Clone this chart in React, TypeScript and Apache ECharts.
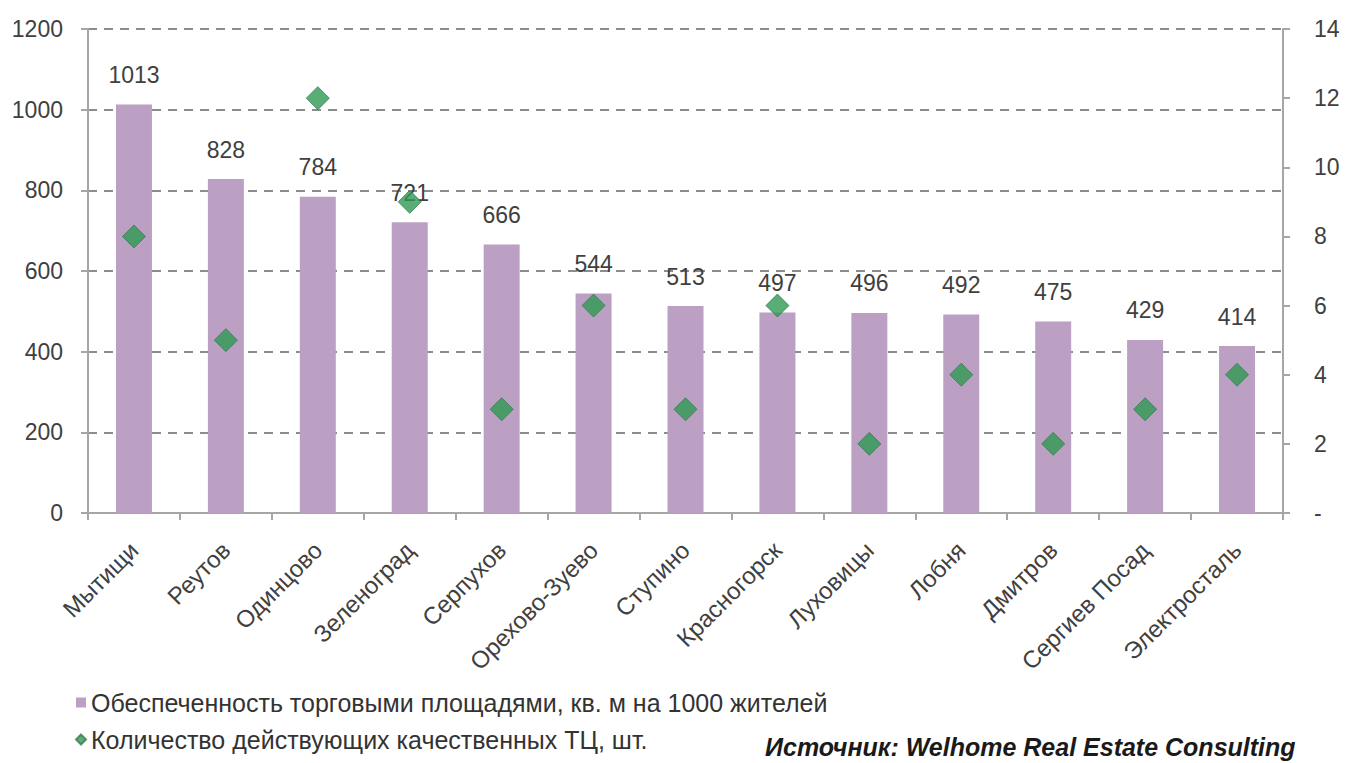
import React, { useEffect, useRef } from "react";
import * as echarts from "echarts";

const categories = [
  "Мытищи",
  "Реутов",
  "Одинцово",
  "Зеленоград",
  "Серпухов",
  "Орехово-Зуево",
  "Ступино",
  "Красногорск",
  "Луховицы",
  "Лобня",
  "Дмитров",
  "Сергиев Посад",
  "Электросталь",
];
const areaPer1000 = [1013, 828, 784, 721, 666, 544, 513, 497, 496, 492, 475, 429, 414];
const mallCount = [8, 5, 12, 9, 3, 6, 3, 6, 2, 4, 2, 3, 4];
const barName = "Обеспеченность торговыми площадями, кв. м на 1000 жителей";
const scatterName = "Количество действующих качественных ТЦ, шт.";
const sourceText = "Источник: Welhome Real Estate Consulting";

const FONT = "Arial, 'Liberation Sans', sans-serif";
const TXT = "#404040";

export default function App() {
  const ref = useRef<HTMLDivElement>(null);
  useEffect(() => {
    document.body.style.margin = "0";
    const chart = echarts.init(ref.current!, undefined, { renderer: "svg" });
    chart.setOption({
      animation: false,
      backgroundColor: "#ffffff",
      textStyle: { fontFamily: FONT },
      grid: { left: 88, right: 62, top: 29, bottom: 250, containLabel: false },
      legend: {
        orient: "vertical",
        left: 70,
        top: 685,
        itemGap: 12,
        itemWidth: 10,
        itemHeight: 10,
        textStyle: {
          fontFamily: FONT,
          fontSize: 25,
          color: "#333333",
        },
        data: [
          { name: barName, icon: "rect" },
          { name: scatterName, icon: "diamond" },
        ],
      },
      graphic: [
        {
          type: "text",
          left: 765,
          top: 734,
          style: {
            text: sourceText,
            fontFamily: FONT,
            fontSize: 25,
            fontWeight: "bold",
            fontStyle: "italic",
            fill: "#1a1a1a",
          },
        },
      ],
      xAxis: {
        type: "category",
        data: categories,
        boundaryGap: true,
        axisLine: { lineStyle: { color: "#A6A6A6", width: 2 } },
        axisTick: { show: true, length: 7, lineStyle: { color: "#A6A6A6", width: 2 } },
        axisLabel: {
          rotate: 45,
          interval: 0,
          fontSize: 24,
          color: TXT,
          margin: 33,
        },
      },
      yAxis: [
        {
          type: "value",
          min: 0,
          max: 1200,
          interval: 200,
          axisLine: { show: true, lineStyle: { color: "#A6A6A6", width: 2 } },
          axisTick: { show: true, length: 7, lineStyle: { color: "#A6A6A6", width: 2 } },
          axisLabel: {
            fontSize: 23,
            color: TXT,
            margin: 25,
            formatter: (v: number) => String(v),
          },
          splitLine: {
            show: true,
            lineStyle: { color: "#8C8C8C", width: 2, type: [9, 7] },
          },
        },
        {
          type: "value",
          min: 0,
          max: 14,
          interval: 2,
          position: "right",
          axisLine: { show: true, lineStyle: { color: "#A6A6A6", width: 2 } },
          axisTick: { show: true, length: 7, lineStyle: { color: "#A6A6A6", width: 2 } },
          axisLabel: {
            fontSize: 23,
            color: TXT,
            margin: 31,
            formatter: (v: number) => (v === 0 ? "-" : String(v)),
          },
          splitLine: { show: false },
        },
      ],
      series: [
        {
          name: barName,
          type: "bar",
          data: areaPer1000,
          barWidth: 36,
          itemStyle: { color: "#BCA0C4" },
          label: {
            show: true,
            position: "top",
            distance: 18,
            fontSize: 23,
            color: TXT,
          },
          z: 2,
        },
        {
          name: scatterName,
          type: "scatter",
          yAxisIndex: 1,
          data: mallCount,
          symbol: "diamond",
          symbolSize: 23,
          itemStyle: { color: "#2E9A52", borderColor: "#3a7a55", borderWidth: 1 },
          z: 3,
        },
      ],
    });
    return () => chart.dispose();
  }, []);
  return (
    <div
      ref={ref}
      style={{ position: "fixed", left: 0, top: 0, width: 1345, height: 763 }}
    />
  );
}
